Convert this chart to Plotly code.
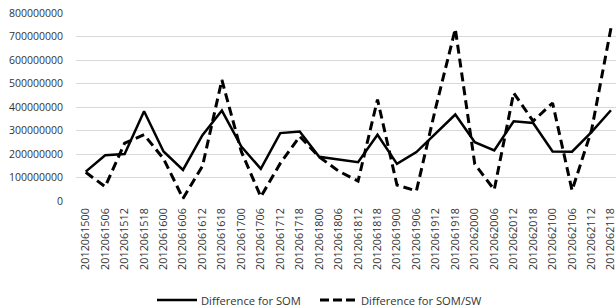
import plotly.graph_objects as go

categories = ["2012061500", "2012061506", "2012061512", "2012061518",
              "2012061600", "2012061606", "2012061612", "2012061618",
              "2012061700", "2012061706", "2012061712", "2012061718",
              "2012061800", "2012061806", "2012061812", "2012061818",
              "2012061900", "2012061906", "2012061912", "2012061918",
              "2012062000", "2012062006", "2012062012", "2012062018",
              "2012062100", "2012062106", "2012062112", "2012062118"]

diff_som = [125e6, 195e6, 200e6, 382e6, 211e6, 132e6, 280e6, 385e6,
            232e6, 137e6, 289e6, 296e6, 188e6, 177e6, 165e6, 282e6,
            158e6, 208e6, 289e6, 368e6, 250e6, 215e6, 339e6, 332e6,
            211e6, 210e6, 293e6, 386e6]

diff_som_sw = [122e6, 61e6, 246e6, 282e6, 180e6, 11e6, 148e6, 515e6,
               210e6, 18e6, 160e6, 275e6, 188e6, 127e6, 85e6, 432e6,
               68e6, 43e6, 400e6, 732e6, 157e6, 48e6, 460e6, 340e6,
               417e6, 45e6, 300e6, 735e6]

series_names = ["Difference for SOM", "Difference for SOM/SW"]

y_ticks = [0, 100000000, 200000000, 300000000, 400000000,
           500000000, 600000000, 700000000, 800000000]
y_tick_labels = [str(v) for v in y_ticks]

W, H = 616, 308
ML, MR, MT, MB = 76, 0, 13, 107
PW, PH = W - ML - MR, H - MT - MB

def px_x(px):
    return (px - ML) / PW

def px_y(py):
    return (H - MB - py) / PH

styles = [dict(color="black", width=2.5),
          dict(color="black", width=3, dash="9px,5px")]

fig = go.Figure()
fig.add_trace(go.Scatter(x=categories, y=diff_som, mode="lines",
                         name=series_names[0], showlegend=False,
                         line=styles[0]))
fig.add_trace(go.Scatter(x=categories, y=diff_som_sw, mode="lines",
                         name=series_names[1], showlegend=False,
                         line=styles[1]))

# manual legend below the axis labels
legend_y = 300
legend_items = [(157, 197, 199), (320, 357, 359)]
for (x0, x1, xt), name, st in zip(legend_items, series_names, styles):
    ln = dict(color=st["color"], width=st["width"])
    if "dash" in st:
        ln["dash"] = "9px,4px"
    fig.add_shape(type="line", xref="paper", yref="paper",
                  x0=px_x(x0), x1=px_x(x1), y0=px_y(legend_y), y1=px_y(legend_y),
                  line=ln)
    fig.add_annotation(xref="paper", yref="paper", x=px_x(xt), y=px_y(legend_y),
                       xanchor="left", yanchor="middle", showarrow=False,
                       text=name, font=dict(size=11.2, color="#333333"))

fig.update_layout(
    width=W, height=H,
    margin=dict(l=ML, r=MR, t=MT, b=MB, autoexpand=False),
    paper_bgcolor="white", plot_bgcolor="white",
    font=dict(family="Open Sans", color="#333333", size=10.5),
    showlegend=False,
    xaxis=dict(type="category", range=[-0.5, 27.26], automargin=False,
               tickangle=-90, tickfont=dict(size=10.8),
               showgrid=False, showline=False, zeroline=False,
               ticks="", ticklabelstandoff=4),
    yaxis=dict(range=[0, 800e6], tickvals=y_ticks, ticktext=y_tick_labels,
               automargin=False,
               showgrid=True, gridcolor="#d9d9d9", gridwidth=1,
               zeroline=False, showline=False, ticks="",
               ticklabelstandoff=12, tickfont=dict(size=10.5)),
)

fig.write_html("out.html", config={"displayModeBar": False},
               post_script="document.body.style.margin='0';document.body.style.overflow='hidden';")
